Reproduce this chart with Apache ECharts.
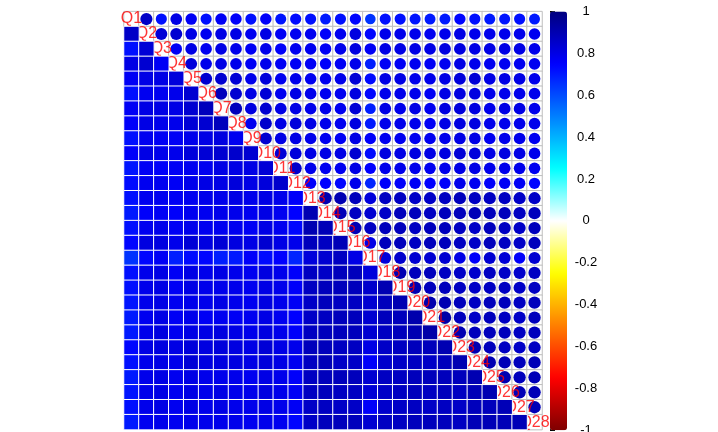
<!DOCTYPE html>
<html>
<head>
<meta charset="utf-8">
<script src="https://cdn.jsdelivr.net/npm/echarts@6/dist/echarts.min.js"></script>
<style>
html,body{margin:0;padding:0;background:#fff;}
#main{width:718px;height:432px;}
</style>
</head>
<body>
<div id="main"></div>
<script>
// variable names
var labels = ['Q1','Q2','Q3','Q4','Q5','Q6','Q7','Q8','Q9','Q10','Q11','Q12','Q13','Q14',
              'Q15','Q16','Q17','Q18','Q19','Q20','Q21','Q22','Q23','Q24','Q25','Q26','Q27','Q28'];

// lower triangle of the correlation matrix, row i holds cols 1..i-1
var lower = [
    [],
    [0.86],
    [0.72, 0.83],
    [0.80, 0.84, 0.77],
    [0.77, 0.80, 0.80, 0.82],
    [0.72, 0.78, 0.78, 0.79, 0.84],
    [0.77, 0.80, 0.80, 0.80, 0.84, 0.88],
    [0.76, 0.80, 0.79, 0.79, 0.83, 0.84, 0.88],
    [0.72, 0.78, 0.77, 0.77, 0.79, 0.80, 0.81, 0.78],
    [0.76, 0.80, 0.79, 0.79, 0.82, 0.83, 0.84, 0.85, 0.84],
    [0.71, 0.77, 0.76, 0.77, 0.78, 0.78, 0.80, 0.80, 0.80, 0.83],
    [0.73, 0.78, 0.78, 0.77, 0.79, 0.80, 0.80, 0.82, 0.80, 0.82, 0.85],
    [0.72, 0.78, 0.78, 0.77, 0.78, 0.79, 0.79, 0.80, 0.79, 0.80, 0.79, 0.76],
    [0.70, 0.76, 0.77, 0.76, 0.78, 0.78, 0.79, 0.79, 0.78, 0.80, 0.78, 0.75, 0.90],
    [0.72, 0.78, 0.79, 0.77, 0.79, 0.78, 0.78, 0.78, 0.77, 0.80, 0.78, 0.74, 0.90, 0.89],
    [0.74, 0.81, 0.81, 0.79, 0.83, 0.81, 0.83, 0.81, 0.80, 0.84, 0.80, 0.79, 0.88, 0.87, 0.89],
    [0.65, 0.74, 0.77, 0.69, 0.73, 0.74, 0.69, 0.70, 0.76, 0.73, 0.75, 0.68, 0.82, 0.84, 0.87, 0.80],
    [0.72, 0.79, 0.80, 0.77, 0.80, 0.79, 0.80, 0.79, 0.78, 0.81, 0.79, 0.76, 0.87, 0.86, 0.88, 0.88, 0.82],
    [0.72, 0.79, 0.80, 0.77, 0.80, 0.79, 0.79, 0.79, 0.78, 0.80, 0.79, 0.76, 0.87, 0.88, 0.88, 0.88, 0.85, 0.90],
    [0.71, 0.79, 0.80, 0.78, 0.79, 0.79, 0.80, 0.79, 0.78, 0.81, 0.79, 0.77, 0.86, 0.88, 0.87, 0.87, 0.84, 0.88, 0.90],
    [0.70, 0.78, 0.80, 0.77, 0.79, 0.77, 0.78, 0.77, 0.78, 0.80, 0.78, 0.75, 0.86, 0.87, 0.88, 0.88, 0.84, 0.88, 0.88, 0.91],
    [0.70, 0.79, 0.81, 0.78, 0.80, 0.80, 0.81, 0.80, 0.79, 0.81, 0.79, 0.76, 0.87, 0.88, 0.88, 0.88, 0.84, 0.87, 0.88, 0.90, 0.92],
    [0.74, 0.80, 0.81, 0.80, 0.82, 0.81, 0.82, 0.81, 0.80, 0.83, 0.80, 0.79, 0.88, 0.88, 0.87, 0.87, 0.80, 0.86, 0.87, 0.88, 0.88, 0.90],
    [0.72, 0.79, 0.80, 0.79, 0.83, 0.81, 0.81, 0.81, 0.80, 0.82, 0.80, 0.78, 0.87, 0.89, 0.86, 0.86, 0.76, 0.85, 0.86, 0.87, 0.86, 0.88, 0.90],
    [0.70, 0.79, 0.80, 0.78, 0.80, 0.79, 0.79, 0.79, 0.78, 0.80, 0.79, 0.76, 0.87, 0.88, 0.88, 0.88, 0.84, 0.87, 0.87, 0.88, 0.88, 0.88, 0.88, 0.90],
    [0.71, 0.79, 0.80, 0.78, 0.80, 0.79, 0.80, 0.79, 0.79, 0.81, 0.79, 0.77, 0.87, 0.88, 0.87, 0.87, 0.83, 0.86, 0.87, 0.88, 0.87, 0.88, 0.87, 0.89, 0.90],
    [0.72, 0.79, 0.80, 0.78, 0.80, 0.79, 0.80, 0.79, 0.79, 0.80, 0.79, 0.77, 0.86, 0.87, 0.86, 0.86, 0.76, 0.85, 0.86, 0.87, 0.86, 0.87, 0.86, 0.88, 0.88, 0.89],
    [0.70, 0.78, 0.79, 0.78, 0.79, 0.79, 0.79, 0.79, 0.78, 0.79, 0.78, 0.74, 0.86, 0.88, 0.88, 0.88, 0.84, 0.87, 0.87, 0.88, 0.88, 0.88, 0.87, 0.89, 0.89, 0.89, 0.89]
];

// colour scale ticks
var barMin = -1, barMax = 1, barStep = 0.2;
var palette = ['#7F0000','#FF0000','#FF7F00','#FFFF00','#FFFFFF','#00FFFF','#007FFF','#0000FF','#00007F'];

var n = labels.length;
var cell = 418 / n;

var squares = [], circles = [], bg = [], diag = [];
for (var i = 0; i < n; i++) {
    for (var j = 0; j < i; j++) {
        squares.push([j, i, lower[i][j]]);   // lower: colour squares
        circles.push([i, j, lower[i][j]]);   // upper: mirrored circles
    }
    for (var k = i; k < n; k++) {
        bg.push([k, i, 0]);
    }
    diag.push([i, i]);
}

var chart = echarts.init(document.getElementById('main'));
var option = {
    animation: false,
    grid: [
        {left: 124, top: 11.6, width: 418, height: 418, outerBoundsMode: 'none', containLabel: false},
        {left: 550, top: 11.6, width: 17, height: 418.6, outerBoundsMode: 'none', containLabel: false}
    ],
    xAxis: [
        {type: 'category', data: labels, show: false},
        {type: 'value', gridIndex: 1, show: false, min: 0, max: 1}
    ],
    yAxis: [
        {type: 'category', data: labels, inverse: true, show: false},
        {
            type: 'value', gridIndex: 1, position: 'right',
            min: barMin, max: barMax, interval: barStep,
            axisLine: {show: false},
            splitLine: {show: false},
            axisTick: {show: true, length: 5, lineStyle: {color: '#000'}},
            axisLabel: {
                margin: 19, align: 'center', verticalAlign: 'middle', color: '#000',
                fontSize: 13, fontFamily: 'Liberation Sans, Arial, sans-serif'
            }
        },
        {
            type: 'value', gridIndex: 1, position: 'left',
            min: barMin, max: barMax,
            axisLine: {show: true, lineStyle: {color: '#000', width: 1}},
            axisTick: {show: false}, axisLabel: {show: false}, splitLine: {show: false}
        }
    ],
    visualMap: {
        type: 'continuous',
        min: barMin, max: barMax,
        seriesIndex: [1, 3],
        calculable: false,
        left: 550, top: 11.6,
        itemWidth: 17, itemHeight: 418.6,
        padding: 0,
        text: null,
        inRange: {color: palette}
    },
    series: [
        {
            name: 'grid', type: 'heatmap', data: bg, z: 1, silent: true,
            itemStyle: {color: '#fff', borderColor: '#BEBEBE', borderWidth: 1}
        },
        {
            name: 'upper', type: 'scatter', data: circles, z: 2, silent: true,
            symbol: 'circle',
            itemStyle: {opacity: 1},
            symbolSize: function (v) { return Math.sqrt(Math.abs(v[2])) * cell * 0.88; }
        },
        {
            name: 'names', type: 'scatter', data: diag, z: 3, silent: true,
            symbolSize: 1,
            itemStyle: {color: 'rgba(0,0,0,0)'},
            label: {
                show: true, position: 'inside',
                formatter: function (p) { return labels[p.data[0]]; },
                color: '#FF0000', fontSize: 16,
                fontFamily: 'Liberation Sans, Arial, sans-serif'
            }
        },
        {
            name: 'lower', type: 'heatmap', data: squares, z: 4, silent: true,
            itemStyle: {borderColor: '#fff', borderWidth: 1}
        }
    ]
};
chart.setOption(option);
</script>
</body>
</html>
